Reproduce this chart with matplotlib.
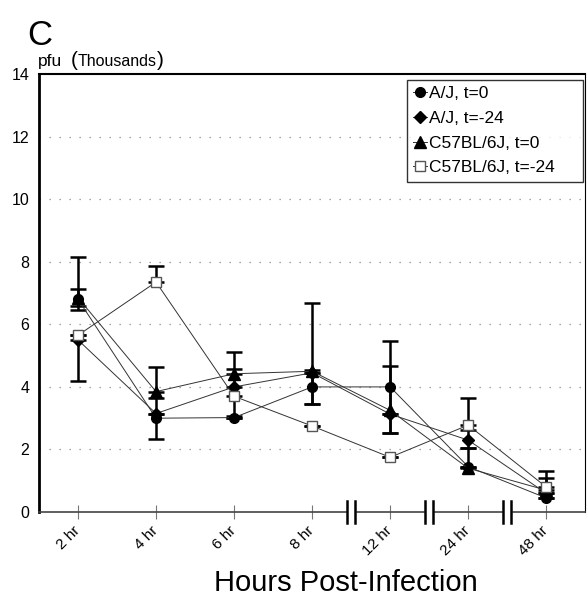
import numpy as np
import matplotlib
matplotlib.use("Agg")
import matplotlib.pyplot as plt

plt.rcParams['font.family'] = ['Liberation Sans', 'DejaVu Sans']

# time points (categorical, with axis breaks after 8 hr)
hours = ["2 hr", "4 hr", "6 hr", "8 hr", "12 hr", "24 hr", "48 hr"]

# pfu (thousands)
aj_t0 = [6.8, 3.0, 3.02, 4.0, 4.0, 1.45, 0.45]
aj_t0_lo = [0.33, 0.65, 0.0, 0.55, 1.48, 0.0, 0.0]
aj_t0_hi = [0.33, 0.65, 0.0, 0.55, 1.48, 0.0, 0.0]

aj_t24 = [5.5, 3.15, 4.0, 4.45, 3.13, 2.3, 0.6]
aj_t24_lo = [1.3, 0.0, 0.0, 0.0, 0.0, 0.25, 0.0]
aj_t24_hi = [0.0, 0.0, 0.57, 0.0, 0.0, 0.32, 0.0]

b6_t0 = [6.85, 3.85, 4.42, 4.5, 3.25, 1.4, 0.7]
b6_t0_lo = [0.27, 0.0, 0.0, 1.05, 0.73, 0.0, 0.0]
b6_t0_hi = [1.3, 0.8, 0.7, 2.18, 1.42, 0.65, 0.4]

b6_t24 = [5.65, 7.35, 3.7, 2.75, 1.75, 2.78, 0.8]
b6_t24_lo = [0.0, 0.0, 0.63, 0.0, 0.0, 0.0, 0.0]
b6_t24_hi = [0.0, 0.5, 0.0, 0.0, 0.0, 0.86, 0.5]

break_pos = [3.5, 4.5, 5.5]

fig = plt.figure(figsize=(5.87, 6.14), dpi=100)
ax = fig.add_axes([0.0664, 0.166, 0.9306, 0.7135])

x = np.arange(len(hours))

series = [
    (aj_t0, aj_t0_lo, aj_t0_hi, 'o', 'black', 'black', 7, "A/J, t=0"),
    (aj_t24, aj_t24_lo, aj_t24_hi, 'D', 'black', 'black', 6, "A/J, t=-24"),
    (b6_t0, b6_t0_lo, b6_t0_hi, '^', 'black', 'black', 8.5, "C57BL/6J, t=0"),
    (b6_t24, b6_t24_lo, b6_t24_hi, 's', 'white', '#555555', 7, "C57BL/6J, t=-24"),
]

handles = []
for vals, lo, hi, mk, fc, ec, ms, lab in series:
    ax.errorbar(x, vals, yerr=[lo, hi], fmt='none', ecolor='black',
                elinewidth=1.8, capsize=6, capthick=1.8, zorder=3)
    h, = ax.plot(x, vals, color='#333333', lw=0.7, marker=mk, ms=ms,
                 mfc=fc, mec=ec, mew=1.0, label=lab, zorder=4)
    handles.append(h)

ax.set_xlim(-0.5, 6.5)
ax.set_ylim(0, 14)
ax.set_yticks(np.arange(0, 15, 2))
ax.set_xticks(x)
ax.set_xticklabels(hours, rotation=45, ha='right', va='center',
                   rotation_mode='anchor', fontsize=11)
ax.tick_params(axis='x', direction='inout', length=10, width=0.8,
               color='#777777', pad=7)
ax.tick_params(axis='y', length=0, pad=7, labelsize=11.5)

for v in range(2, 14, 2):
    ax.axhline(v, color='#888888', lw=0.9, ls=(0, (1, 7)), zorder=1)

ax.spines['left'].set_linewidth(2.0)
ax.spines['top'].set_linewidth(1.5)
ax.spines['right'].set_linewidth(0.8)
ax.spines['bottom'].set_linewidth(1.2)
ax.spines['bottom'].set_color('#444444')

# axis break marks
for bp in break_pos:
    ax.fill_between([bp - 0.05, bp + 0.05], -0.4, 0.4, color='white',
                    zorder=5, clip_on=False)
    for dx in (-0.055, 0.055):
        ax.plot([bp + dx, bp + dx], [-0.35, 0.35], color='black', lw=1.8,
                zorder=6, clip_on=False)

leg = ax.legend(handles=handles, loc='upper left',
                bbox_to_anchor=(0.673, 0.986, 0.323, 0.0), mode='expand',
                fontsize=12.5, frameon=True, fancybox=False, edgecolor='black',
                handlelength=0.8, handletextpad=0.15, borderpad=0.35,
                labelspacing=0.55, borderaxespad=0)
leg.get_frame().set_linewidth(1.0)

fig.text(0.59, 0.05, "Hours Post-Infection", fontsize=21, ha='center',
         va='center')
fig.text(0.046, 0.927, "C", fontsize=25, ha='left', va='baseline')

# "pfu (Thousands)" with tall parentheses
fig.canvas.draw()
rend = fig.canvas.get_renderer()
ylab_y = 0.893
cur = 38 / 587
for s, fs in [("pfu", 12.5), ("  ", 11), ("(", 15), ("Thousands", 11.5), (")", 15)]:
    t = fig.text(cur, ylab_y, s, fontsize=fs, ha='left', va='baseline')
    bb = t.get_window_extent(renderer=rend)
    cur += bb.width / fig.bbox.width

fig.savefig("out.png", dpi=100)
